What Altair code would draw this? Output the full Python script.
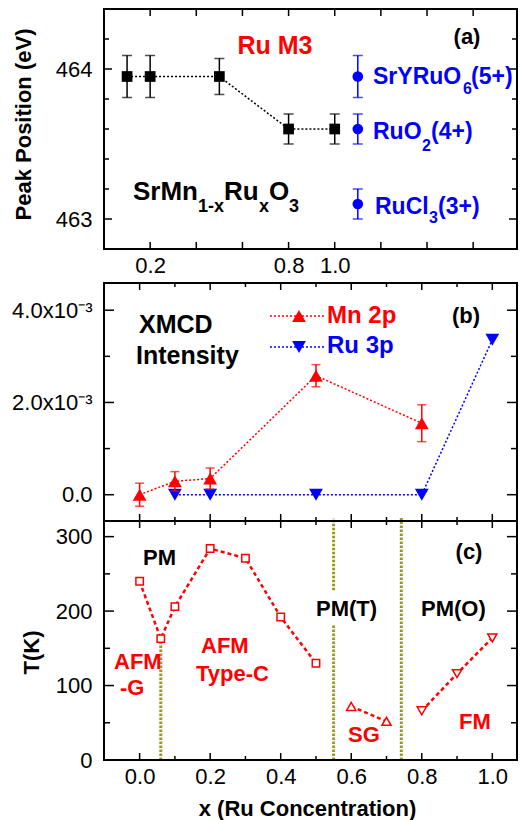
import altair as alt
import pandas as pd

# ---------------- data ----------------
# (a) Ru M3 peak position of SrMn(1-x)Ru(x)O3 and reference compounds
a_x = [0.1, 0.2, 0.5, 0.8, 1.0]
a_peak = [463.95, 463.95, 463.95, 463.60, 463.60]
a_err = [0.14, 0.14, 0.12, 0.10, 0.10]
ref_x = [1.1, 1.1, 1.1]
ref_peak = [463.95, 463.60, 463.10]
ref_err = [0.14, 0.10, 0.10]

# (b) XMCD intensity
mn_x = [0.0, 0.1, 0.2, 0.5, 0.8]
mn_val = [0.0, 0.29e-3, 0.35e-3, 2.58e-3, 1.55e-3]
mn_err = [0.25e-3, 0.21e-3, 0.23e-3, 0.24e-3, 0.40e-3]
ru_x = [0.1, 0.2, 0.5, 0.8, 1.0]
ru_val = [0.0, 0.0, 0.0, 0.0, 3.36e-3]

# (c) phase diagram
sq_x = [0.0, 0.06, 0.1, 0.2, 0.3, 0.4, 0.5]
sq_T = [240, 163, 206, 284, 271, 192, 130]
up_x = [0.6, 0.7]
up_T = [72, 52]
dn_x = [0.8, 0.9, 1.0]
dn_T = [66, 116, 164]
bd_x = [0.06, 0.55, 0.55, 0.742]
bd_lo = [0, 0, 228, 0]
bd_hi = [160, 181, 325, 325]

# tick values
a_x_lab = [0.2, 0.8, 1.0]
a_x_ticks = [0.2, 0.4, 0.6, 0.8, 1.0, 1.2, 1.4, 1.6]
a_y_major = [463, 464]
a_y_minor = [463.2, 463.4, 463.6, 463.8, 464.2]
bc_x_major = [0.0, 0.2, 0.4, 0.6, 0.8, 1.0]
bc_x_minor = [0.1, 0.3, 0.5, 0.7, 0.9]
b_y_major = [0.0, 2e-3, 4e-3]
b_y_minor = [1e-3, 3e-3]
c_y_major = [0, 100, 200, 300]
c_y_minor = [50, 150, 250]

# axis ranges
a_xdom = [0.0, 1.79]
a_ydom = [462.8, 464.4]
bc_xdom = [-0.101, 1.07]
b_ydom = [-0.57e-3, 4.59e-3]
c_ydom = [0, 321]

# ---------------- style ----------------
FONT = "Liberation Sans"
RED, BLUE, BLACK, OLIVE = "#ff0000", "#0000ff", "#000000", "#9a9a1c"
W, HA, HB, HC = 413, 240, 238, 239

DOM = {"a": (a_xdom, a_ydom), "b": (bc_xdom, b_ydom), "c": (bc_xdom, c_ydom)}

one = pd.DataFrame({"k": [0]})

TITLE = dict(titleFont=FONT, titleFontSize=22, titleFontWeight="bold", titleColor=BLACK,
             titleBaseline="alphabetic", titleAlign="center")


def lab_axis(orient, values, pad, **kw):
    p = dict(orient=orient, values=values, domain=False, grid=False, ticks=False, title="",
             labelPadding=pad, labelFont=FONT, labelFontSize=22, labelColor=BLACK,
             labelFlush=False, labelOverlap=False)
    p.update(kw)
    return alt.Axis(**p)


HIDDEN_X = alt.Axis(orient="bottom", domain=False, grid=False, ticks=False, labels=False, title="")

# one axis definition per panel and channel, shared by every layer
AX = {
    "a": (lab_axis("bottom", a_x_lab, 6, format=".1f"),
          lab_axis("left", a_y_major, 12, format="d", title="Peak Position (eV)",
                   titleX=-74, titleY=115, titleAngle=270, **TITLE)),
    "b": (HIDDEN_X,
          lab_axis("left", b_y_major, 12,
                   labelExpr="datum.value == 0 ? '0.0' : format(datum.value * 1000, '.1f') + 'x10⁻³'")),
    "c": (lab_axis("bottom", bc_x_major, 6, format=".1f", title="x (Ru Concentration)",
                   titleX=203, titleY=55, **TITLE),
          lab_axis("left", c_y_major, 12, format="d", title="T(K)",
                   titleX=-66, titleY=131, titleAngle=270, **TITLE)),
}


def X(p, f="x"):
    return alt.X(f, type="quantitative", axis=AX[p][0],
                 scale=alt.Scale(domain=DOM[p][0], nice=False, zero=False))


def Y(p, f="y"):
    return alt.Y(f, type="quantitative", axis=AX[p][1],
                 scale=alt.Scale(domain=DOM[p][1], nice=False, zero=False))


def xticks(p, values, size):
    lo, hi = DOM[p][1]
    df = pd.DataFrame({"v": values, "e0": [lo] * len(values), "e1": [hi] * len(values)})
    m = dict(orient="vertical", size=size, thickness=1.5, color=BLACK, opacity=1)
    return [alt.Chart(df).mark_tick(yOffset=-size / 2, **m).encode(x=X(p, "v"), y=Y(p, "e0")),
            alt.Chart(df).mark_tick(yOffset=size / 2, **m).encode(x=X(p, "v"), y=Y(p, "e1"))]


def yticks(p, values, size):
    lo, hi = DOM[p][0]
    df = pd.DataFrame({"v": values, "e0": [lo] * len(values), "e1": [hi] * len(values)})
    m = dict(orient="horizontal", size=size, thickness=1.5, color=BLACK, opacity=1)
    return [alt.Chart(df).mark_tick(xOffset=size / 2, **m).encode(x=X(p, "e0"), y=Y(p, "v")),
            alt.Chart(df).mark_tick(xOffset=-size / 2, **m).encode(x=X(p, "e1"), y=Y(p, "v"))]


def box(h):
    return alt.Chart(one).mark_rect(fillOpacity=0, stroke=BLACK, strokeWidth=2).encode(
        x=alt.value(0), x2=alt.value(W), y=alt.value(0), y2=alt.value(h))


def label(text, x, y, size, color=BLACK, align="left"):
    return alt.Chart(one).mark_text(
        text=text, align=align, baseline="alphabetic", font=FONT, fontSize=size,
        fontWeight="bold", color=color).encode(x=alt.value(x), y=alt.value(y))


def errbars(p, df, color, cap):
    r = alt.Chart(df).mark_rule(color=color, strokeWidth=1.5).encode(
        x=X(p), y=Y(p, "lo"), y2="hi:Q")
    t1 = alt.Chart(df).mark_tick(orient="horizontal", size=cap, thickness=1.5, color=color).encode(
        x=X(p), y=Y(p, "lo"))
    t2 = alt.Chart(df).mark_tick(orient="horizontal", size=cap, thickness=1.5, color=color).encode(
        x=X(p), y=Y(p, "hi"))
    return [r, t1, t2]


# ---------------- panel (a) ----------------
df_a = pd.DataFrame({"x": a_x, "y": a_peak,
                     "lo": [p - e for p, e in zip(a_peak, a_err)],
                     "hi": [p + e for p, e in zip(a_peak, a_err)]})
df_r = pd.DataFrame({"x": ref_x, "y": ref_peak,
                     "lo": [p - e for p, e in zip(ref_peak, ref_err)],
                     "hi": [p + e for p, e in zip(ref_peak, ref_err)]})

panel_a = alt.layer(
    *xticks("a", a_x_ticks, 7),
    *yticks("a", a_y_major, 8),
    *yticks("a", a_y_minor, 5),
    *errbars("a", df_a, BLACK, 10),
    alt.Chart(df_a).mark_line(color=BLACK, strokeWidth=1.5, strokeDash=[2, 2]).encode(x=X("a"), y=Y("a")),
    alt.Chart(df_a).mark_point(shape="square", filled=True, size=115, color=BLACK, opacity=1).encode(
        x=X("a"), y=Y("a")),
    *errbars("a", df_r, BLUE, 10),
    alt.Chart(df_r).mark_point(shape="circle", filled=True, size=113, color=BLUE, opacity=1).encode(
        x=X("a"), y=Y("a")),
    label("Ru M3", 171, 45, 25, RED, "center"),
    label("(a)", 363, 35, 22, BLACK, "center"),
    label("SrMn", 29, 191, 26),
    label("1-x", 94, 203, 18),
    label("Ru", 120, 191, 26),
    label("x", 155, 203, 18),
    label("O", 165, 191, 26),
    label("3", 185, 203, 18),
    label("SrYRuO", 269, 75, 23, BLUE),
    label("6", 359, 85, 16, BLUE),
    label("(5+)", 367, 75, 23, BLUE),
    label("RuO", 269, 130, 23, BLUE),
    label("2", 318, 142, 16, BLUE),
    label("(4+)", 327, 130, 23, BLUE),
    label("RuCl", 271, 205, 23, BLUE),
    label("3", 325, 214, 16, BLUE),
    label("(3+)", 334, 205, 23, BLUE),
    box(HA),
).properties(width=W, height=HA)

# ---------------- panel (b) ----------------
df_mn = pd.DataFrame({"x": mn_x, "y": mn_val,
                      "lo": [v - e for v, e in zip(mn_val, mn_err)],
                      "hi": [v + e for v, e in zip(mn_val, mn_err)]})
df_ru = pd.DataFrame({"x": ru_x, "y": ru_val})

panel_b = alt.layer(
    *xticks("b", bc_x_major, 7),
    *xticks("b", bc_x_minor, 4),
    *yticks("b", b_y_major, 10),
    *yticks("b", b_y_minor, 6),
    alt.Chart(df_ru).mark_line(color=BLUE, strokeWidth=1.5, strokeDash=[2, 2]).encode(x=X("b"), y=Y("b")),
    alt.Chart(df_ru).mark_point(shape="triangle-down", filled=True, size=190, color=BLUE, opacity=1).encode(
        x=X("b"), y=Y("b")),
    *errbars("b", df_mn, RED, 9),
    alt.Chart(df_mn).mark_line(color=RED, strokeWidth=1.5, strokeDash=[2, 2]).encode(x=X("b"), y=Y("b")),
    alt.Chart(df_mn).mark_point(shape="triangle-up", filled=True, size=190, color=RED, opacity=1).encode(
        x=X("b"), y=Y("b")),
    label("XMCD", 35, 50, 25),
    label("Intensity", 32, 81, 25),
    label("(b)", 362, 40, 22, BLACK, "center"),
    alt.Chart(one).mark_rule(color=RED, strokeWidth=1.5, strokeDash=[2, 2]).encode(
        x=alt.value(166), x2=alt.value(221), y=alt.value(33)),
    alt.Chart(one).mark_point(shape="triangle-up", filled=True, size=190, color=RED, opacity=1).encode(
        x=alt.value(195), y=alt.value(33)),
    label("Mn 2p", 223, 40, 24, RED),
    alt.Chart(one).mark_rule(color=BLUE, strokeWidth=1.5, strokeDash=[2, 2]).encode(
        x=alt.value(166), x2=alt.value(221), y=alt.value(64)),
    alt.Chart(one).mark_point(shape="triangle-down", filled=True, size=190, color=BLUE, opacity=1).encode(
        x=alt.value(195), y=alt.value(64)),
    label("Ru 3p", 223, 70, 24, BLUE),
    box(HB),
).properties(width=W, height=HB)

# ---------------- panel (c) ----------------
df_sq = pd.DataFrame({"x": sq_x, "y": sq_T})
df_up = pd.DataFrame({"x": up_x, "y": up_T})
df_dn = pd.DataFrame({"x": dn_x, "y": dn_T})
df_bd = pd.DataFrame({"x": bd_x, "lo": bd_lo, "hi": bd_hi})


def open_series(df, shape, size):
    line = alt.Chart(df).mark_line(color=RED, strokeWidth=2.5, strokeDash=[4, 3]).encode(
        x=X("c"), y=Y("c"))
    pts = alt.Chart(df).mark_point(shape=shape, filled=True, size=size, color="white", stroke=RED,
                                   strokeWidth=1.5, opacity=1).encode(x=X("c"), y=Y("c"))
    return [line, pts]


panel_c = alt.layer(
    *xticks("c", bc_x_major, 7),
    *xticks("c", bc_x_minor, 4),
    *yticks("c", c_y_major, 10),
    *yticks("c", c_y_minor, 6),
    alt.Chart(df_bd).mark_rule(color=OLIVE, strokeWidth=3, strokeDash=[2.5, 1.5]).encode(
        x=X("c"), y=Y("c", "lo"), y2="hi:Q"),
    *open_series(df_sq, "square", 55),
    *open_series(df_up, "triangle-up", 85),
    *open_series(df_dn, "triangle-down", 85),
    label("PM", 39, 44, 22),
    label("(c)", 365, 38, 22, BLACK, "center"),
    label("PM(T)", 212, 95, 22),
    label("PM(O)", 317, 95, 22),
    label("AFM", 10, 148, 22, RED),
    label("-G", 16, 174, 22, RED),
    label("AFM", 97, 132, 22, RED),
    label("Type-C", 92, 160, 22, RED),
    label("SG", 244, 221, 22, RED),
    label("FM", 355, 208, 22, RED),
    box(HC),
).properties(width=W, height=HC)

inner = alt.vconcat(panel_b, panel_c, spacing=0, bounds="flush")
chart = alt.vconcat(panel_a, inner, spacing=34, bounds="flush").properties(
    padding={"left": 11, "top": 7, "right": 5, "bottom": 5}
).configure_view(stroke=BLACK, strokeWidth=2).configure(background="white")

chart.save("out.html", embed_options={"renderer": "svg", "actions": False})
